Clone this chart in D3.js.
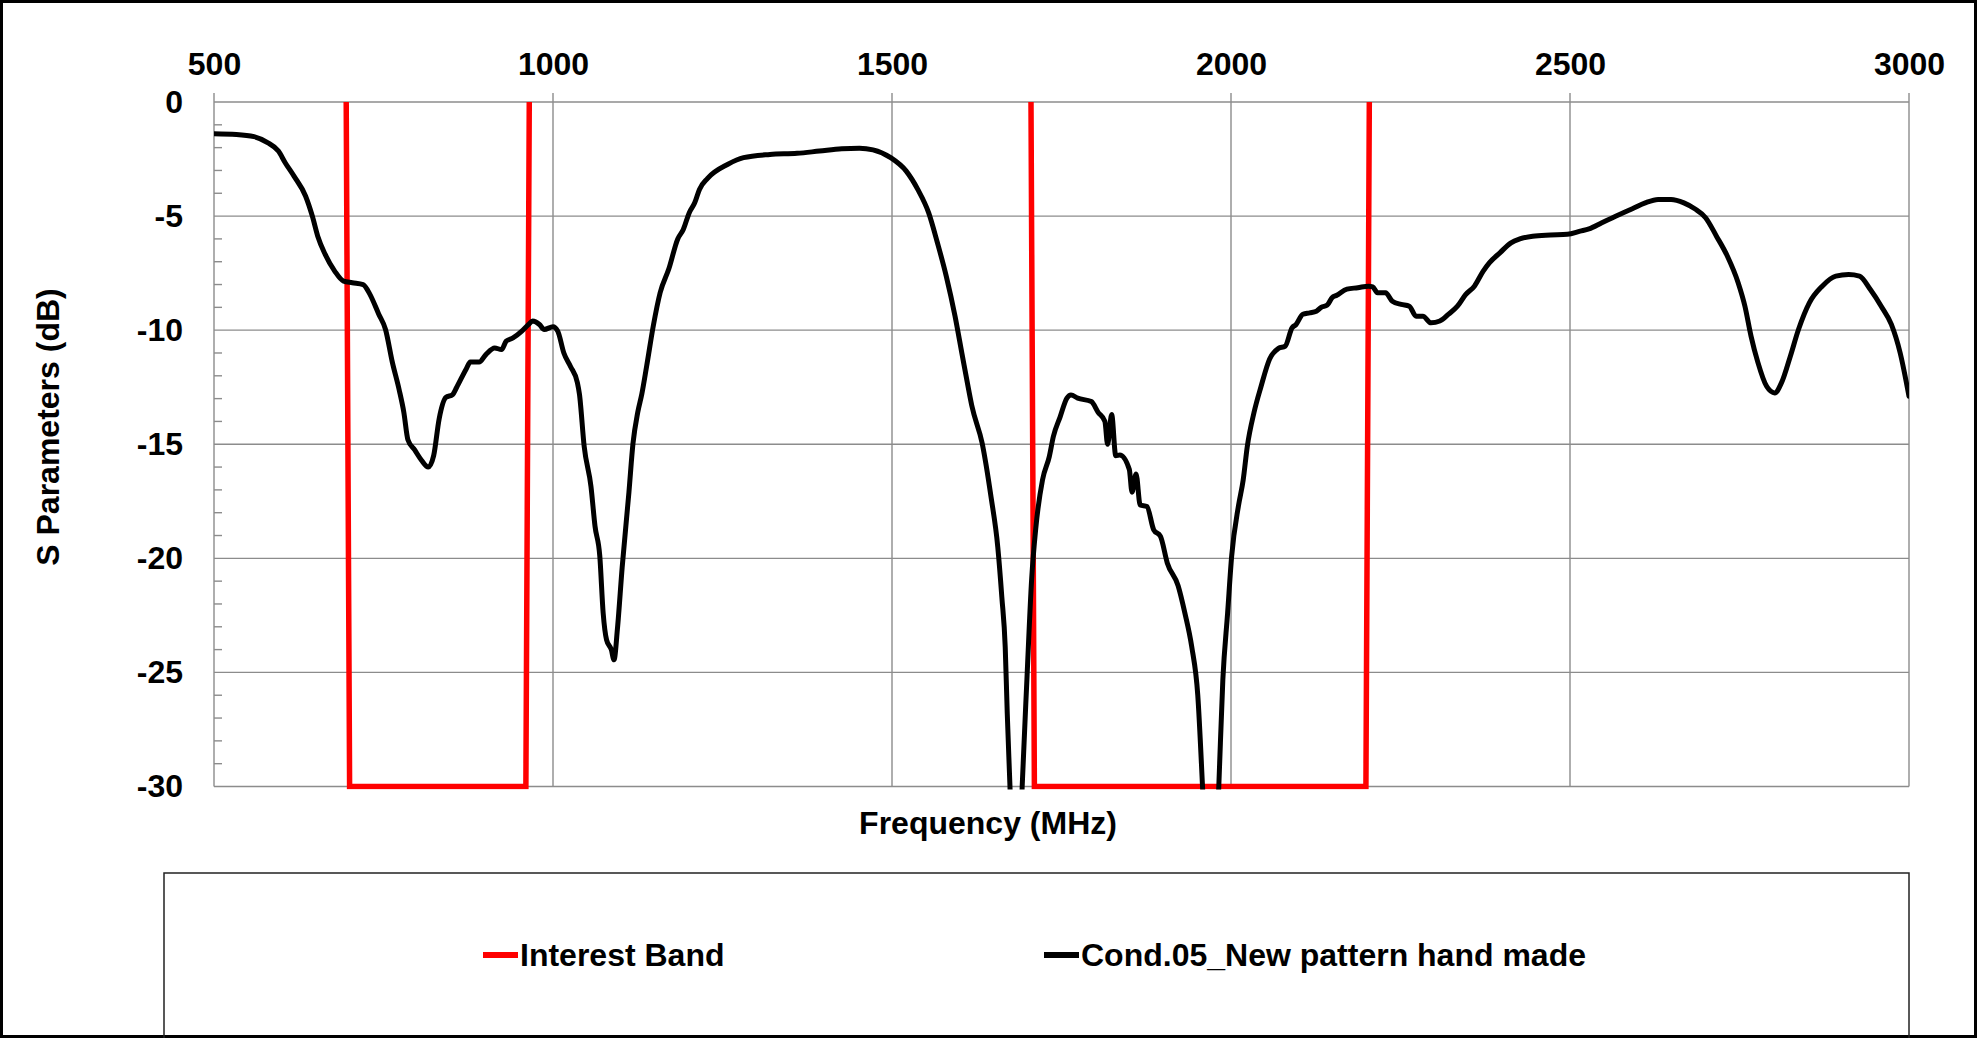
<!DOCTYPE html>
<html>
<head>
<meta charset="utf-8">
<script src="https://cdn.jsdelivr.net/npm/d3@7"></script>
<style>
  body { margin: 0; background: #fff; }
  svg { display: block; }
  text { font-family: "Liberation Sans", Arial, sans-serif; font-weight: bold; font-size: 32px; fill: #000; }
</style>
</head>
<body>
<svg id="chart" width="1977" height="1038"></svg>
<script>
// measured curve (MHz, dB)
var freqMHz = [500,533,559,579,595,605,618,635,645,653,664,678,691,704,720,730,743,753,763,773,780,786,796,806,816,824,832,842,852,858,872,878,891,901,914,924,931,941,954,964,970,980,987,1000,1007,1016,1026,1036,1039,1046,1056,1062,1069,1074,1079,1086,1090,1095,1102,1112,1118,1125,1131,1138,1148,1158,1171,1184,1192,1201,1209,1216,1228,1258,1281,1320,1360,1393,1426,1452,1472,1498,1521,1538,1554,1567,1580,1593,1603,1613,1618,1633,1646,1656,1662,1667,1670,1674,1683,1692,1699,1706,1712,1722,1732,1738,1748,1758,1764,1774,1794,1804,1814,1818,1824,1830,1836,1850,1854,1860,1866,1876,1886,1896,1906,1922,1932,1942,1951,1958,1970,1982,1988,1995,2001,2011,2018,2024,2034,2044,2057,2070,2080,2090,2096,2106,2116,2126,2133,2142,2149,2156,2171,2187,2203,2209,2216,2228,2238,2251,2263,2273,2283,2295,2308,2321,2334,2346,2359,2372,2381,2397,2413,2426,2445,2471,2496,2515,2528,2547,2573,2592,2611,2630,2649,2668,2684,2700,2716,2732,2748,2758,2767,2777,2790,2802,2812,2825,2837,2853,2872,2892,2911,2927,2943,2959,2974,2987,3000];
var sParamDb = [-1.39,-1.42,-1.52,-1.78,-2.15,-2.66,-3.25,-4.12,-5.0,-5.88,-6.68,-7.41,-7.85,-7.92,-8.0,-8.43,-9.3,-9.97,-11.4,-12.6,-13.6,-14.8,-15.25,-15.7,-16.0,-15.5,-13.9,-12.95,-12.82,-12.5,-11.7,-11.4,-11.4,-11.07,-10.78,-10.85,-10.48,-10.34,-10.04,-9.75,-9.6,-9.75,-9.97,-9.85,-10.04,-11.0,-11.6,-12.3,-12.8,-15.1,-16.85,-18.6,-19.9,-22.4,-23.57,-24.0,-24.45,-23.1,-20.4,-17.1,-14.96,-13.6,-12.8,-11.6,-9.8,-8.36,-7.3,-6.0,-5.6,-4.85,-4.42,-3.83,-3.35,-2.73,-2.44,-2.3,-2.25,-2.15,-2.05,-2.03,-2.1,-2.44,-3.03,-3.83,-4.85,-6.17,-7.63,-9.39,-11.0,-12.6,-13.35,-14.96,-17.3,-19.5,-21.7,-23.9,-26.8,-30,-38,-30,-25.3,-20.9,-18.7,-16.56,-15.54,-14.66,-13.8,-12.98,-12.84,-12.98,-13.13,-13.6,-14.0,-15.0,-13.7,-15.5,-15.47,-16.1,-17.1,-16.3,-17.66,-17.73,-18.75,-19.04,-20.2,-21.2,-22.4,-23.86,-26.0,-30,-38,-30,-25.3,-22.4,-19.9,-17.7,-16.56,-15.1,-13.6,-12.5,-11.26,-10.8,-10.7,-9.9,-9.75,-9.3,-9.24,-9.17,-9.0,-8.9,-8.58,-8.47,-8.2,-8.14,-8.07,-8.1,-8.36,-8.36,-8.73,-8.87,-8.95,-9.39,-9.39,-9.68,-9.6,-9.3,-8.95,-8.44,-8.07,-7.41,-7.05,-6.6,-6.17,-6.0,-5.88,-5.83,-5.8,-5.66,-5.56,-5.29,-4.93,-4.68,-4.42,-4.27,-4.27,-4.42,-4.68,-5.07,-5.88,-6.75,-7.92,-8.95,-10.26,-11.4,-12.46,-12.75,-12.3,-11.14,-9.97,-8.8,-8.07,-7.63,-7.56,-7.63,-8.22,-8.95,-9.75,-11.0,-12.9];

// interest band outline (null = gap)
var bandMHz = [695,700,960,965,null,1705,1710,2199,2204];
var bandDb  = [0,-30,-30,0,null,0,-30,-30,0];

var xTicks = [500,1000,1500,2000,2500,3000];
var yTicks = [0,-5,-10,-15,-20,-25,-30];
var yMinor = d3.range(-29, 0).filter(function(d) { return d % 5 !== 0; });

var seriesNames = ["Interest Band", "Cond.05_New pattern hand made"];
var seriesColors = ["#ff0000", "#000000"];

(function() {
    var svg = d3.select("#chart");
    var pLeft = 214, pRight = 1909, pTop = 102, pBottom = 786.5;
    var x = d3.scaleLinear().domain([500, 3000]).range([pLeft, pRight]);
    var y = d3.scaleLinear().domain([-30, 0]).range([pBottom, pTop]);

    //outer frame
    svg.append("rect").attr("x", 1.5).attr("y", 1.5).attr("width", 1974).attr("height", 1035)
        .attr("fill", "#fff").attr("stroke", "#000").attr("stroke-width", 3);

    //grid
    var grid = svg.append("g").attr("stroke", "#8c8c8c").attr("stroke-width", 1.4);
    grid.selectAll(".gx").data(xTicks).enter().append("line")
        .attr("x1", function(d) { return x(d); }).attr("x2", function(d) { return x(d); })
        .attr("y1", pTop - 9).attr("y2", pBottom);
    grid.selectAll(".gy").data(yTicks).enter().append("line")
        .attr("x1", pLeft).attr("x2", pRight)
        .attr("y1", function(d) { return y(d); }).attr("y2", function(d) { return y(d); });
    grid.selectAll(".my").data(yMinor).enter().append("line")
        .attr("x1", pLeft).attr("x2", pLeft + 8)
        .attr("y1", function(d) { return y(d); }).attr("y2", function(d) { return y(d); });

    //axes labels (plain hyphen minus like the original)
    var plain = function(d) { return String(d); };
    var xAxis = svg.append("g").attr("transform", "translate(0," + pTop + ")")
        .call(d3.axisTop(x).tickValues(xTicks).tickSize(9).tickPadding(18).tickFormat(plain));
    xAxis.select(".domain").remove();
    xAxis.selectAll("line").remove();
    xAxis.attr("font-size", null).attr("font-family", null);

    var yAxis = svg.append("g").attr("transform", "translate(" + pLeft + ",0)")
        .call(d3.axisLeft(y).tickValues(yTicks).tickSize(0).tickPadding(31).tickFormat(plain));
    yAxis.select(".domain").remove();
    yAxis.attr("font-size", null).attr("font-family", null);

    svg.append("text").attr("x", 988).attr("y", 834).attr("text-anchor", "middle").text("Frequency (MHz)");
    svg.append("text").attr("transform", "translate(59,427) rotate(-90)").attr("text-anchor", "middle").text("S Parameters (dB)");

    //series
    svg.append("clipPath").attr("id", "plotClip").append("rect")
        .attr("x", pLeft).attr("y", pTop - 3).attr("width", pRight - pLeft).attr("height", pBottom - pTop + 6);

    var bandData = bandMHz.map(function(f, i) { return { f: f, v: bandDb[i] }; });
    var curveData = freqMHz.map(function(f, i) { return { f: f, v: sParamDb[i] }; });

    var line = d3.line()
        .defined(function(d) { return d.f !== null; })
        .x(function(d) { return x(d.f); })
        .y(function(d) { return y(d.v); });
    var smooth = d3.line()
        .curve(d3.curveMonotoneX)
        .x(function(d) { return x(d.f); })
        .y(function(d) { return y(d.v); });

    var plot = svg.append("g").attr("clip-path", "url(#plotClip)");
    plot.append("path").datum(bandData).attr("d", line)
        .attr("fill", "none").attr("stroke", seriesColors[0]).attr("stroke-width", 5.5)
        .attr("stroke-linejoin", "miter");
    plot.append("path").datum(curveData).attr("d", smooth)
        .attr("fill", "none").attr("stroke", seriesColors[1]).attr("stroke-width", 5)
        .attr("stroke-linejoin", "round").attr("stroke-linecap", "round");

    //legend
    svg.append("rect").attr("x", 164).attr("y", 873).attr("width", 1745).attr("height", 170)
        .attr("fill", "none").attr("stroke", "#222").attr("stroke-width", 1.5);
    var legendX = [483, 1044];
    var legend = svg.selectAll(".legend").data(seriesNames).enter().append("g")
        .attr("transform", function(d, i) { return "translate(" + legendX[i] + ",955)"; });
    legend.append("line").attr("x1", 0).attr("x2", 35).attr("y1", 0).attr("y2", 0)
        .attr("stroke", function(d, i) { return seriesColors[i]; }).attr("stroke-width", 6);
    legend.append("text").attr("x", 37).attr("y", 11).text(function(d) { return d; });
})();
</script>
</body>
</html>
